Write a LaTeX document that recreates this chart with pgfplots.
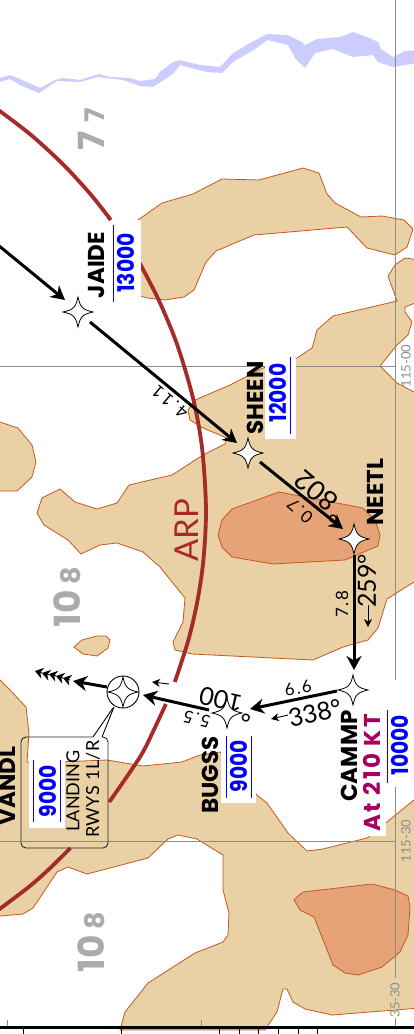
\documentclass[border=0pt]{standalone}
\usepackage{pgfplots}
\pgfplotsset{compat=1.18}
\usepackage{fontspec}
\usetikzlibrary{arrows.meta}
\setmainfont{Lato}
\newfontfamily\fut{Poppins}
\definecolor{terr}{HTML}{E9D1A5}
\definecolor{edgec}{HTML}{C4581F}
\definecolor{peak}{HTML}{E5A377}
\definecolor{river}{HTML}{CCCCFF}
\definecolor{arcc}{HTML}{A52A2A}
\definecolor{altc}{HTML}{0000FF}
\definecolor{spd}{HTML}{A5005E}
\definecolor{msa}{HTML}{ABABAB}
\definecolor{gridc}{HTML}{8C8C8C}
% four point waypoint star
\pgfdeclareplotmark{fix}{%
  \pgfpathmoveto{\pgfqpoint{0pt}{\pgfplotmarksize}}
  \pgfpathcurveto{\pgfqpoint{0.16\pgfplotmarksize}{0.3\pgfplotmarksize}}{\pgfqpoint{0.3\pgfplotmarksize}{0.16\pgfplotmarksize}}{\pgfqpoint{\pgfplotmarksize}{0pt}}
  \pgfpathcurveto{\pgfqpoint{0.3\pgfplotmarksize}{-0.16\pgfplotmarksize}}{\pgfqpoint{0.16\pgfplotmarksize}{-0.3\pgfplotmarksize}}{\pgfqpoint{0pt}{-\pgfplotmarksize}}
  \pgfpathcurveto{\pgfqpoint{-0.16\pgfplotmarksize}{-0.3\pgfplotmarksize}}{\pgfqpoint{-0.3\pgfplotmarksize}{-0.16\pgfplotmarksize}}{\pgfqpoint{-\pgfplotmarksize}{0pt}}
  \pgfpathcurveto{\pgfqpoint{-0.3\pgfplotmarksize}{0.16\pgfplotmarksize}}{\pgfqpoint{-0.16\pgfplotmarksize}{0.3\pgfplotmarksize}}{\pgfqpoint{0pt}{\pgfplotmarksize}}
  \pgfpathclose
  \pgfusepathqfillstroke}
\newcommand{\fs}[1]{\fontsize{#1}{#1}\selectfont}
\newcommand{\ls}[1]{\addfontfeature{LetterSpace=#1}}
\tikzset{
  lab/.style={inner sep=0pt,rotate=90,font=\fut\bfseries\fs{23}},
  alttxt/.style={lab,text=altc,xscale=0.88},
  msad/.style={inner sep=0pt,rotate=90,text=msa,font=\fut\bfseries\fs{#1},anchor=base},
  geo/.style={inner sep=0pt,rotate=90,text=gridc,font=\fs{13}},
}
\pgfplotsset{
  route/.style={black,line width=3pt,-{Stealth[length=14pt,width=15pt,inset=4.5pt]}},
  small arrow/.style={black,line width=0.9pt,-{Stealth[length=8pt,width=8pt,inset=2.5pt]}},
  feather/.style={black,line width=1pt,-{Stealth[length=8pt,width=11pt,inset=2.5pt]}},
  brown arc/.style={arcc,line width=3.8pt,smooth},
}
\begin{document}
\begin{tikzpicture}
\useasboundingbox (0,0) rectangle (414pt,1034pt);
\clip (0,0) rectangle (414pt,1034pt);
\begin{axis}[
  width=414pt, height=1034pt, scale only axis,
  xmin=0, xmax=414, ymin=0, ymax=1034,
  y dir=reverse, axis lines=none,
]
% river
\addplot[fill=river,draw=none] coordinates {
  (-4,79) (10,75) (20,79) (40,88) (55,80) (63,78) (80,80) (95,75) (100,74) (110,77) (130,78) (140,81)
  (155,79) (160,72) (173,62) (180,60) (200,65) (220,67) (233,53) (250,43) (267,34) (287,35) (302,42)
  (305,45) (317,39) (340,37) (353,32) (367,37) (378,42) (381,49) (393,57) (405,51) (418,50)
  (418,63) (393,67) (378,62) (373,55) (353,57) (333,49) (315,53) (305,68) (295,58) (288,45) (267,40)
  (257,48) (233,62) (222,73) (207,72) (180,65) (173,74) (153,87) (140,86) (123,80) (97,77) (80,82)
  (57,81) (39,93) (20,85) (10,79) (-4,83)
} --cycle;
% terrain
\addplot[fill=terr,draw=edgec,line width=0.8pt] coordinates {
  (120,228) (138,220) (162,203) (193,194) (222,179) (259,180) (303,168) (319,173) (327,194) (335,203)
  (361,217) (382,216) (404,220) (413,229) (407,247) (395,255) (367,248) (347,227) (254,235) (216,251)
  (206,262) (194,290) (184,297) (165,300) (147,298) (120,290)
} --cycle;
\addplot[fill=terr,draw=edgec,line width=0.8pt] coordinates {
  (420,582) (420,394) (414,392) (397,383) (380,366) (397,345) (408,335) (412,322) (405,312) (405,307)
  (420,301) (420,260) (405,258) (395,265) (388,276) (397,301) (333,316) (317,330) (313,345) (312,348)
  (297,358) (263,368) (230,385) (195,400) (188,410) (190,420) (203,428) (227,438) (225,444) (203,455)
  (172,475) (129,485) (117,503) (97,509) (75,502) (60,489) (42,498) (37,513) (44,525) (68,540) (81,554)
  (100,545) (117,543) (143,552) (160,567) (185,598) (183,622) (173,642) (175,650) (192,654) (313,660)
  (343,647) (368,640) (378,628) (387,599) (414,582)
} --cycle;
\addplot[fill=terr,draw=edgec,line width=0.8pt] coordinates {
  (74,647) (82,640) (97,636) (106,636) (110,640) (108,648) (97,656) (83,654)
} --cycle;
\addplot[fill=terr,draw=edgec,line width=0.8pt] coordinates {
  (-4,421) (0,422) (18,428) (32,445) (36,462) (32,477) (17,491) (0,491) (-4,491)
} --cycle;
\addplot[fill=terr,draw=edgec,line width=0.8pt] coordinates {
  (-4,676) (0,680) (10,690) (26,707) (29,733) (27,762) (33,763) (107,760) (143,766) (182,762) (200,755)
  (220,752) (257,795) (267,803) (288,833) (307,851) (323,849) (367,838) (387,822) (420,795) (420,1008)
  (332,1015) (305,1009) (293,1002) (287,989) (283,989) (277,1012) (265,1030) (120,1030) (125,1012)
  (148,983) (195,953) (223,942) (228,935) (229,913) (223,890) (223,855) (197,839) (178,835) (168,839)
  (148,858) (87,874) (68,867) (57,872) (33,908) (23,914) (0,916) (-4,916)
} --cycle;
\addplot[fill=peak,draw=edgec,line width=0.8pt] coordinates {
  (279,492) (232,509) (222,520) (218,535) (222,547) (232,557) (273,564) (345,560) (378,546) (380,535)
  (375,520) (363,508)
} --cycle;
\addplot[fill=peak,draw=edgec,line width=0.8pt] coordinates {
  (297,897) (303,892) (372,884) (395,890) (408,896) (410,907) (408,935) (400,952) (382,967) (358,975)
  (345,973) (333,965) (314,917) (300,910) (294,900)
} --cycle;
% lat/long grid
\addplot[gridc,line width=0.9pt] coordinates {(0,366.5) (396,366.5)};
\addplot[gridc,line width=0.9pt] coordinates {(0,841) (396,841)};
\addplot[gridc,line width=0.9pt] coordinates {(395.7,0) (395.7,978)};
\addplot[gridc,line width=0.9pt] coordinates {(395.7,1018) (395.7,1027)};
% ARP arc
\addplot[brown arc] coordinates {(-4.3,108) (31.1,135) (63.7,165) (91.2,195) (110.8,220)};
\addplot[brown arc] coordinates {(139.6,263) (158.7,300) (177.3,345) (193.5,400) (202.3,450) (206,510) (203.4,560) (197.6,600) (188.4,640) (174.8,682)};
\addplot[brown arc] coordinates {(165.9,704) (153.8,730) (140,757) (109.3,802)};
\addplot[brown arc] coordinates {(70.5,848) (48.1,870) (28.7,887) (-4.3,912)};
% label backgrounds
\addplot[fill=white,draw=none] coordinates {(113,220) (141,220) (141,298) (113,298)} --cycle;
\addplot[fill=white,draw=none] coordinates {(265,345) (296,345) (296,439) (265,439)} --cycle;
\addplot[fill=white,draw=none] coordinates {(221,735) (256,735) (256,803) (221,803)} --cycle;
\addplot[fill=white,draw=none] coordinates {(29,758) (65,758) (65,828) (29,828)} --cycle;
\addplot[fill=white,draw=none] coordinates {(360,705) (386,705) (386,836) (360,836)} --cycle;
\addplot[fill=white,draw=none] coordinates {(386,680) (414,680) (414,787) (386,787)} --cycle;
% altitude bars
\addplot[altc,line width=0.9pt] coordinates {(113.5,225) (113.5,302)};
\addplot[altc,line width=0.9pt] coordinates {(290,357) (290,434)};
\addplot[altc,line width=0.9pt] coordinates {(226,736) (226,798)};
\addplot[altc,line width=0.9pt] coordinates {(251,736) (251,798)};
\addplot[altc,line width=0.9pt] coordinates {(33.5,760) (33.5,822)};
\addplot[altc,line width=0.9pt] coordinates {(60.5,760) (60.5,822)};
\addplot[altc,line width=0.9pt] coordinates {(387,710) (387,783)};
% landing note box
\addplot[black!85,line width=0.9pt,rounded corners=5pt] coordinates {(93,737) (21,737) (21,848) (108,848) (108,737) (102,737)};
\addplot[black,line width=0.9pt] coordinates {(113,708) (93,737)};
\addplot[black,line width=0.9pt] coordinates {(114,707) (102,737)};
% route
\addplot[route] coordinates {(-2,245) (65,300)};
\addplot[route] coordinates {(90,322) (237,443)};
\addplot[route] coordinates {(260,462) (343,529)};
\addplot[route] coordinates {(354,555) (354,670)};
\addplot[route] coordinates {(337,691) (250,709)};
\addplot[route] coordinates {(209,710) (143,695)};
\addplot[route] coordinates {(107,687) (73,681)};
\addplot[feather] coordinates {(42,673) (35,671)};
\addplot[feather] coordinates {(49,675) (42,673)};
\addplot[feather] coordinates {(56,676) (49,674)};
\addplot[feather] coordinates {(63,678) (56,676)};
\addplot[feather] coordinates {(70,680) (63,678)};
\addplot[small arrow] coordinates {(169,684) (152,682)};
\addplot[small arrow] coordinates {(288,715) (271,719)};
\addplot[small arrow] coordinates {(368,605) (368,627)};
% fixes
\addplot[only marks,mark=fix,mark size=15pt,mark options={fill=white,draw=black,line width=0.8pt}]
  coordinates {(78,312) (248,453) (354,539) (353,690) (227,713)};
\addplot[only marks,mark=*,mark size=16pt,mark options={fill=white,draw=black,line width=0.9pt}]
  coordinates {(123,692)};
\addplot[only marks,mark=fix,mark size=15pt,mark options={fill=white,draw=black,line width=0.8pt}]
  coordinates {(123,692)};
% names and altitudes
\node[lab] at (97,265) {JAIDE};
\node[alttxt] at (126,263) {13000};
\node[lab] at (255,398) {SHEEN};
\node[alttxt] at (278,393) {12000};
\node[lab] at (375,492) {NEETL};
\node[lab] at (349,756) {CAMMP};
\node[lab,text=spd] at (372,773) {\ls{11}At 210 KT};
\node[alttxt] at (400,745) {10000};
\node[lab] at (210,775) {BUGSS};
\node[alttxt] at (239,766) {9000};
\node[lab] at (7,786) {VANDL};
\node[alttxt] at (48,791) {9000};
\node[inner sep=0pt,rotate=90,font=\fs{18}] at (73,791) {LANDING};
\node[inner sep=0pt,rotate=90,font=\fs{18}] at (93,789) {\ls{3}RWYS 1L/R};
\node[inner sep=0pt,rotate=90,text=arcc,font=\fs{33}] at (187,530) {ARP};
% courses and distances
\node[inner sep=0pt,rotate=90,font=\fs{25}] at (367,581) {259°};
\node[inner sep=0pt,rotate=90,font=\fs{17}] at (342,604) {\ls{10}7.8};
\node[inner sep=0pt,rotate=13,font=\fs{25}] at (315,713) {338°};
\node[inner sep=0pt,rotate=12,font=\fs{17}] at (298,688) {\ls{10}6.6};
\node[inner sep=0pt,rotate=140,font=\fs{17}] at (170,402) {\ls{15}4.11};
\node[inner sep=0pt,rotate=140,font=\fs{27}] at (316,491) {802};
\node[inner sep=0pt,rotate=140,font=\fs{25}] at (337,515) {°};
\node[inner sep=0pt,rotate=140,font=\fs{17}] at (300,511) {\ls{10}0.7};
\node[inner sep=0pt,rotate=167,font=\fs{17}] at (197,719) {\ls{10}5.5};
\node[inner sep=0pt,rotate=167,font=\fs{25}] at (221,700) {100};
\node[inner sep=0pt,rotate=167,font=\fs{25}] at (247,713) {°};
% sector altitudes
\node[msad=36] at (104,141) {7};
\node[msad=27] at (104,115) {7};
\node[msad=36] at (80,609) {10};
\node[msad=27] at (80,576) {8};
\node[msad=36] at (104,954) {10};
\node[msad=27] at (104,921) {8};
% grid labels
\node[geo] at (406,366) {115-00};
\node[geo] at (406,841) {115-30};
\node[geo] at (395,1000) {35-30};
% scale strip
\addplot[gridc,line width=0.8pt] coordinates {(7,1020) (7,1027)};
\addplot[gridc,line width=0.8pt] coordinates {(201,1020) (201,1027)};
\addplot[black,line width=0.8pt] coordinates {(23.5,1027) (23.5,1036)};
\addplot[black,line width=0.8pt] coordinates {(121.5,1027) (121.5,1036)};
\addplot[black,line width=0.8pt] coordinates {(219,1027) (219,1036)};
\addplot[black,line width=0.8pt] coordinates {(239,1027) (239,1036)};
\addplot[black,line width=0.8pt] coordinates {(258,1027) (258,1036)};
\addplot[black,line width=0.8pt] coordinates {(278,1027) (278,1036)};
\addplot[black,line width=0.8pt] coordinates {(298,1027) (298,1036)};
\addplot[black,line width=0.8pt] coordinates {(317,1027) (317,1036)};
\addplot[black,line width=3.3pt] coordinates {(-2,1027.7) (416,1027.7)};
\end{axis}
\end{tikzpicture}
\end{document}
